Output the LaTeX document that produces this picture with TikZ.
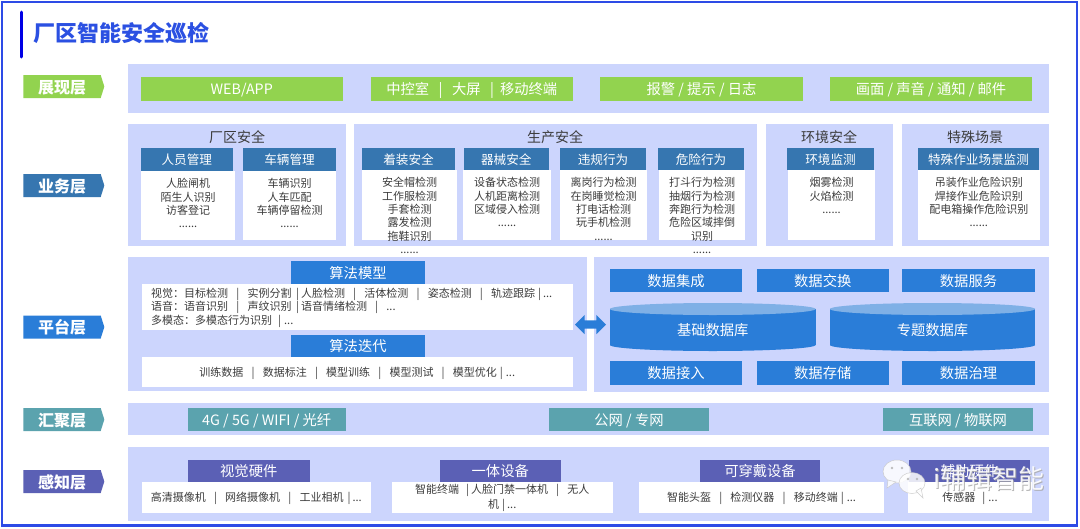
\documentclass[tikz,border=0pt]{standalone}
\usepackage{fontspec}
\setmainfont{Noto Sans CJK SC}
\usetikzlibrary{shapes.symbols,shapes.arrows}
\definecolor{band}{HTML}{CCD5FD}
\definecolor{frameblue}{HTML}{2D4BE6}
\definecolor{titleblue}{HTML}{2B50E2}
\definecolor{cgreen}{HTML}{92D34F}
\definecolor{csteel}{HTML}{3676B0}
\definecolor{cblue}{HTML}{2A7DD8}
\definecolor{cteal}{HTML}{5BA3AE}
\definecolor{cviolet}{HTML}{5B60B5}
\definecolor{clight}{HTML}{7FB0E6}
\definecolor{ctext}{HTML}{3C3C3C}
\newcommand{\fs}[1]{\fontsize{#1}{13.3}\selectfont}
\newcommand{\sa}{\hspace{8.2pt}|\hspace{8.2pt}}
\newcommand{\sbb}{\hspace{4.5pt}|\hspace{2pt}}
% \bx{name}{x1}{y1}{x2}{y2}{style}{text}
\newcommand{\bx}[7]{%
  \pgfmathsetmacro{\mw}{#4-#2}\pgfmathsetmacro{\mh}{#5-#3}%
  \pgfmathsetmacro{\mcx}{(#2+#4)/2}\pgfmathsetmacro{\mcy}{(#3+#5)/2}%
  \node[#6,minimum width=\mw pt,minimum height=\mh pt] (#1) at (\mcx,\mcy) {#7};}
% \cyl{name}{x1}{x2}{text}
\newcommand{\cyl}[4]{%
  \pgfmathsetmacro{\mcx}{(#2+#3)/2}\pgfmathsetmacro{\mrx}{(#3-#2)/2}%
  \fill[cblue] (#2,309) rectangle (#3,345);
  \fill[cblue] (\mcx,345) ellipse [x radius=\mrx,y radius=6];
  \fill[clight] (\mcx,309) ellipse [x radius=\mrx,y radius=6];
  \node[head] (#1) at (\mcx,329.5) {#4};}
\tikzset{
  box/.style={inner sep=0pt,outer sep=0pt,align=center},
  panel/.style={box,fill=band},
  white/.style={inner sep=0pt,outer sep=0pt,fill=white,text=ctext,font=\fs{11},text height=10.8pt,text depth=1.4pt},
  whitebare/.style={box,fill=white},
  head/.style={inner sep=0pt,outer sep=0pt,text=white,font=\fs{14.3},text height=13.6pt,text depth=1.8pt},
  hsteel/.style={head,fill=csteel,font=\fs{12.6},text height=12.2pt,text depth=1.6pt},
  hblue/.style={head,fill=cblue},
  hteal/.style={head,fill=cteal},
  hviolet/.style={head,fill=cviolet},
  hgreen/.style={head,fill=cgreen},
  tag/.style={shape=signal,signal to=east,signal pointer angle=145,inner sep=0pt,outer sep=0pt,
     minimum width=81pt,minimum height=23pt,text=white,font=\fs{16}\bfseries,text height=15.2pt,text depth=2pt},
  lst/.style={inner sep=0pt,outer sep=0pt,align=center,anchor=north,text=ctext,font=\fs{11},yshift=-7.5pt},
  ptitle/.style={inner sep=0pt,text=ctext,font=\fs{14}},
  wm/.style={inner sep=0pt,font=\fs{26}},
}
\begin{document}
\begin{tikzpicture}[x=1pt,y=-1pt]
\useasboundingbox (0,0) rectangle (1080,528);
\fill[white] (0,0) rectangle (1080,528);
\draw[frameblue,line width=2.5pt] (2,2) rectangle (1077,525.5);
\draw[blue!90!black,line width=3pt,line cap=round] (21,12) -- (21,57);
\node[inner sep=0pt,anchor=west,text=titleblue,font=\fs{22}\bfseries] (title) at (33,33) {厂区智能安全巡检};
% layer tags
\node[tag,fill=cgreen] (t1) at (62,86.5) {展现层};
\node[tag,fill=csteel] (t2) at (62,185.5) {业务层};
\node[tag,fill=cblue] (t3) at (62,327) {平台层};
\node[tag,fill=cteal] (t4) at (62,419.5) {汇聚层};
\node[tag,fill=cviolet] (t5) at (62,481.5) {感知层};
% presentation
\bx{b1}{128}{63.5}{1049}{113}{panel}{}
\bx{g1}{140.5}{77}{343}{101}{hgreen}{WEB/APP}
\bx{g2}{370.5}{77}{573}{101}{hgreen}{中控室\hspace{9.5pt}|\hspace{9.5pt}大屏\hspace{9.5pt}|\hspace{6pt}移动终端}
\bx{g3}{600}{77}{803}{101}{hgreen}{报警 / 提示 / 日志}
\bx{g4}{830}{77}{1032}{101}{hgreen}{画面 / 声音 / 通知 / 邮件}
% business
\bx{p1}{128}{124}{346}{245.5}{panel}{}
\bx{p2}{354}{124}{757}{245.5}{panel}{}
\bx{p3}{765.5}{124}{893}{245.5}{panel}{}
\bx{p4}{902}{124}{1049}{245.5}{panel}{}
\node[ptitle] (pt1) at (237,137.5) {厂区安全};
\node[ptitle] (pt2) at (555,137.5) {生产安全};
\node[ptitle] (pt3) at (829,137.5) {环境安全};
\node[ptitle] (pt4) at (975,137.5) {特殊场景};
\bx{w1}{141}{171}{235}{240}{whitebare}{}
\bx{h1}{140.5}{148}{233}{171}{hsteel}{人员管理}
\bx{w2}{243}{171}{336}{240}{whitebare}{}
\bx{h2}{243}{148}{336}{171}{hsteel}{车辆管理}
\bx{w3}{362}{170}{457}{240}{whitebare}{}
\bx{h3}{362}{148}{455}{170}{hsteel}{着装安全}
\bx{w4}{463}{170}{551}{240}{whitebare}{}
\bx{h4}{463.5}{148}{549}{170}{hsteel}{器械安全}
\bx{w5}{560}{170}{647}{240}{whitebare}{}
\bx{h5}{560}{148}{646}{170}{hsteel}{违规行为}
\bx{w6}{659}{170}{745}{240}{whitebare}{}
\bx{h6}{658}{148}{744}{170}{hsteel}{危险行为}
\bx{w7}{788}{170}{875}{240}{whitebare}{}
\bx{h7}{787}{148}{874}{170}{hsteel}{环境监测}
\bx{w8}{917.5}{170}{1040}{240}{whitebare}{}
\bx{h8}{918}{148}{1039}{170}{hsteel}{特殊作业场景监测}
\node[lst] (l1) at (w1.north) {人脸闸机\\陌生人识别\\访客登记\\......};
\node[lst] (l2) at (w2.north) {车辆识别\\人车匹配\\车辆停留检测\\......};
\node[lst] (l3) at (w3.north) {安全帽检测\\工作服检测\\手套检测\\露发检测\\拖鞋识别\\......};
\node[lst] (l4) at (w4.north) {设备状态检测\\人机距离检测\\区域侵入检测\\......};
\node[lst] (l5) at (w5.north) {离岗行为检测\\在岗睡觉检测\\打电话检测\\玩手机检测\\......};
\node[lst] (l6) at (w6.north) {打斗行为检测\\抽烟行为检测\\奔跑行为检测\\危险区域摔倒\\识别\\......};
\node[lst] (l7) at (w7.north) {烟雾检测\\火焰检测\\......};
\node[lst] (l8) at (w8.north) {吊装作业危险识别\\焊接作业危险识别\\配电箱操作危险识别\\......};
% platform
\bx{p5}{128}{257}{587}{391}{panel}{}
\bx{p6}{594}{257}{1049}{392}{panel}{}
\bx{a1}{291}{261}{425}{284}{hblue}{算法模型}
\bx{a1w}{141.5}{284}{573}{330}{whitebare}{}
\node[inner sep=0pt,anchor=north west,align=left,text=ctext,font=\fs{11}] (a1t) at (151,288) {%
视觉：目标检测\sa 实例分割\sbb 人脸检测\sa 活体检测\sa 姿态检测\sa 轨迹跟踪\hspace{3pt}|\hspace{2pt}...\\
语音：语音识别\sa 声纹识别\sbb 语音情绪检测\sa ...\\
多模态：多模态行为识别\hspace{6pt}|\hspace{3pt}...};
\bx{a2}{291}{335}{425}{357}{hblue}{算法迭代}
\bx{a2w}{141.5}{357}{573}{387}{white}{训练数据\sa 数据标注\sa 模型训练\sa 模型测试\sa 模型优化\hspace{3pt}|\hspace{3pt}...}
\node[shape=double arrow,fill=cblue,inner sep=4pt,outer sep=0pt,minimum height=31pt,minimum width=19pt,
  double arrow head extend=5.5pt,double arrow tip angle=90] (dbl) at (590.5,324.5) {};
\bx{d1}{610}{269}{742}{292}{hblue}{数据集成}
\bx{d2}{757}{268.5}{888.5}{292}{hblue}{数据交换}
\bx{d3}{902}{269}{1035}{292}{hblue}{数据服务}
\cyl{c1}{610}{815.5}{基础数据库}
\cyl{c2}{830}{1035}{专题数据库}
\bx{d4}{610}{361}{742}{385}{hblue}{数据接入}
\bx{d5}{757}{361}{888.5}{385}{hblue}{数据存储}
\bx{d6}{902}{361}{1035}{385}{hblue}{数据治理}
% convergence
\bx{p7}{128}{403}{1049}{435}{panel}{}
\bx{n1}{188}{408}{345.5}{431}{hteal}{4G / 5G / WIFI / 光纤}
\bx{n2}{549}{408}{709}{431}{hteal}{公网 / 专网}
\bx{n3}{883}{408}{1033}{431}{hteal}{互联网 / 物联网}
% perception
\bx{p8}{128}{447}{1049}{521}{panel}{}
\bx{v1}{188}{460}{309.5}{482}{hviolet}{视觉硬件}
\bx{v2}{440}{460}{560.5}{482}{hviolet}{一体设备}
\bx{v3}{700}{460}{820}{482}{hviolet}{可穿戴设备}
\bx{v4}{909}{460}{1030}{482}{hviolet}{辅助硬件}
\bx{v1w}{141.5}{482}{371}{512.5}{white}{高清摄像机\sa 网络摄像机\sa 工业相机\hspace{4pt}|\hspace{2pt}...}
\bx{v2w}{391.5}{482}{613}{512.5}{whitebare}{}
\node[inner sep=0pt,align=center,text=ctext,font=\fs{11},yshift=-.5pt] (v2t) at (v2w.center) {智能终端\hspace{7pt}|\hspace{2pt}人脸门禁一体机\sa 无人\\[1.8pt]机\hspace{3pt}|\hspace{2pt}...};
\bx{v3w}{639}{482}{884}{512.5}{white}{智能头盔\sa 检测仪器\sa 移动终端\hspace{3pt}|\hspace{3pt}...}
\bx{v4w}{908}{482}{1032}{512.5}{white}{传感器\hspace{7pt}|\hspace{3pt}...}
% watermark
\begin{scope}[opacity=.85]
\fill[white,draw=gray!45,line width=.5pt] (897,471.5) ellipse [x radius=14,y radius=11.5];
\fill[white,draw=gray!45,line width=.5pt] (888,480) -- (887,488) -- (896,482) -- cycle;
\fill[white,draw=gray!45,line width=.5pt] (912,483) ellipse [x radius=13,y radius=10.5];
\fill[white,draw=gray!45,line width=.5pt] (916,491) -- (923,498) -- (921,488) -- cycle;
\fill[gray!60] (892,468) circle (1.4) (902,468) circle (1.4) (908,479) circle (1.3) (917,479) circle (1.3);
\end{scope}
\node[wm,text=gray!70,opacity=.8,anchor=west] (wms) at (934,480) {i辅辑智能};
\node[wm,text=white,opacity=.9,anchor=west] (wmt) at (933,479) {i辅辑智能};
\end{tikzpicture}
\end{document}
